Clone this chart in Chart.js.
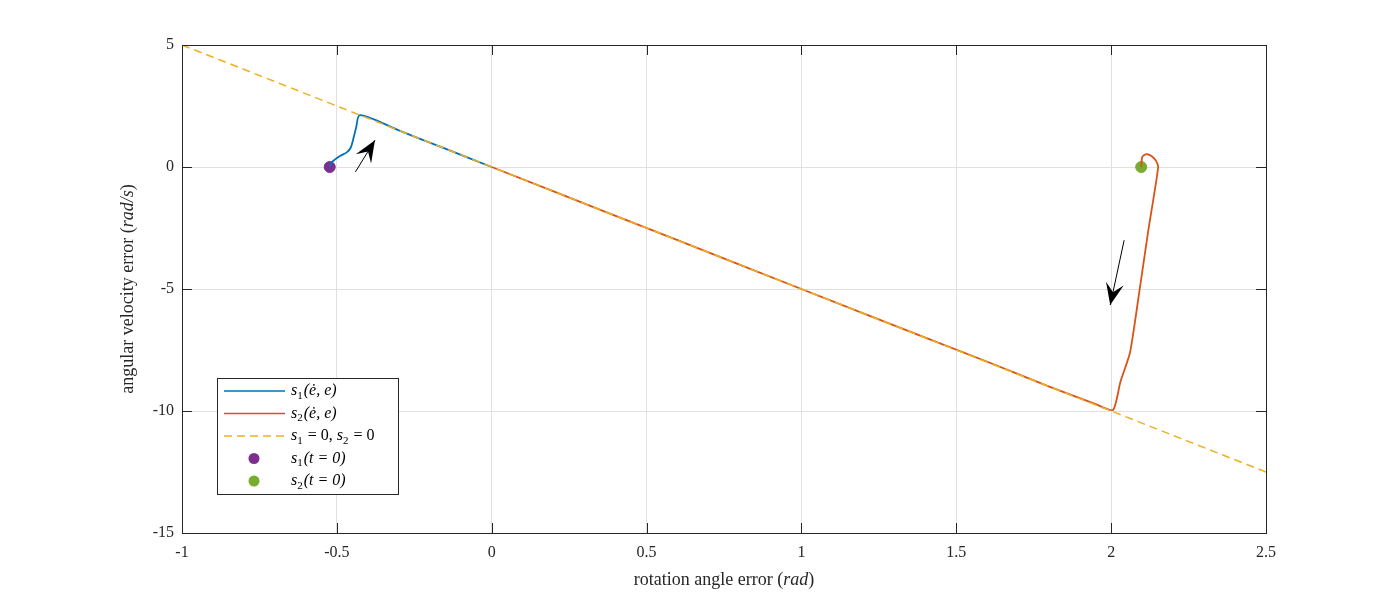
<!DOCTYPE html>
<html>
<head>
<meta charset="utf-8">
<script src="https://cdn.jsdelivr.net/npm/chart.js@4"></script>
<style>
  html, body { margin: 0; padding: 0; background: #fff; }
  #wrap { width: 1400px; height: 600px; }
</style>
</head>
<body>
<div id="wrap"><canvas id="phase"></canvas></div>
<script>
// Sliding surface s = 0 (dashed)
const surfaceX = [-1, 2.5];
const surfaceY = [5, -12.5];

// s1 trajectory
const s1X = [-0.523, -0.516, -0.49, -0.467, -0.455, -0.448, -0.438, -0.425, -0.3, -0.15, 0];
const s1Y = [0, 0.2, 0.45, 0.61, 0.8, 1.1, 1.6, 2.13, 1.5, 0.75, 0];

// s2 trajectory
const s2X = [2.097, 2.1, 2.108, 2.116, 2.13, 2.145, 2.152, 2.12, 2.09, 2.061, 2.03, 2.006, 1.95, 1.8, 1.6, 1.2, 0.8, 0.4, 0];
const s2Y = [0, 0.4, 0.5, 0.53, 0.45, 0.25, 0, -2.6, -5.2, -7.6, -8.8, -9.96, -9.72, -9.0, -7.98, -6.0, -4.0, -2.0, 0];

// initial points
const s1Start = [-0.523, 0];
const s2Start = [2.097, 0];

const xTicks = [-1, -0.5, 0, 0.5, 1, 1.5, 2, 2.5];
const yTicks = [-15, -10, -5, 0, 5];

const COLORS = {
    blue: '#0072BD',
    red: '#D95319',
    yellow: '#EDB120',
    purple: '#7E2F8E',
    green: '#77AC30'
};
const FONT = '"Liberation Serif", "DejaVu Serif", serif';

function pts(xs, ys) {
    return xs.map((x, i) => ({ x: x, y: ys[i] }));
}

// arrows in data coordinates: [tailX, tailY, tipX, tipY]
const arrows = [[-0.44, -0.2, -0.377, 1.1], [2.042, -3.0, 1.997, -5.66]];

const decorPlugin = {
    id: 'decor',
    afterDraw(chart) {
        const { ctx, chartArea: a, scales: { x, y } } = chart;
        ctx.save();
        // box + inner ticks
        ctx.strokeStyle = '#262626';
        ctx.lineWidth = 1;
        ctx.strokeRect(a.left + 0.5, a.top + 0.5, a.right - a.left, a.bottom - a.top);
        ctx.beginPath();
        xTicks.forEach(v => {
            const px = Math.round(x.getPixelForValue(v)) + 0.5;
            ctx.moveTo(px, a.bottom); ctx.lineTo(px, a.bottom - 10);
            ctx.moveTo(px, a.top); ctx.lineTo(px, a.top + 10);
        });
        yTicks.forEach(v => {
            const py = Math.round(y.getPixelForValue(v)) + 0.5;
            ctx.moveTo(a.left, py); ctx.lineTo(a.left + 10, py);
            ctx.moveTo(a.right, py); ctx.lineTo(a.right - 10, py);
        });
        ctx.stroke();

        // arrows
        ctx.fillStyle = '#000';
        ctx.strokeStyle = '#000';
        arrows.forEach(([tx, ty, hx, hy]) => {
            const x0 = x.getPixelForValue(tx), y0 = y.getPixelForValue(ty);
            const x1 = x.getPixelForValue(hx), y1 = y.getPixelForValue(hy);
            const ang = Math.atan2(y1 - y0, x1 - x0);
            ctx.beginPath();
            ctx.moveTo(x0, y0); ctx.lineTo(x1, y1);
            ctx.stroke();
            const L = 22, W = 9;
            const bx = x1 - L * Math.cos(ang), by = y1 - L * Math.sin(ang);
            const mx = x1 - 0.6 * L * Math.cos(ang), my = y1 - 0.6 * L * Math.sin(ang);
            ctx.beginPath();
            ctx.moveTo(x1, y1);
            ctx.lineTo(bx + W * Math.sin(ang), by - W * Math.cos(ang));
            ctx.lineTo(mx, my);
            ctx.lineTo(bx - W * Math.sin(ang), by + W * Math.cos(ang));
            ctx.closePath();
            ctx.fill();
        });

        // axis titles
        ctx.fillStyle = '#262626';
        ctx.textBaseline = 'middle';
        ctx.textAlign = 'left';
        const xt1 = 'rotation angle error (', xt2 = 'rad', xt3 = ')';
        ctx.font = '18px ' + FONT;
        let w1 = ctx.measureText(xt1).width;
        ctx.font = 'italic 18px ' + FONT;
        let w2 = ctx.measureText(xt2).width;
        ctx.font = '18px ' + FONT;
        let w3 = ctx.measureText(xt3).width;
        let sx = 724 - (w1 + w2 + w3) / 2;
        ctx.fillText(xt1, sx, 580);
        ctx.font = 'italic 18px ' + FONT; ctx.fillText(xt2, sx + w1, 580);
        ctx.font = '18px ' + FONT; ctx.fillText(xt3, sx + w1 + w2, 580);

        ctx.translate(128, 289);
        ctx.rotate(-Math.PI / 2);
        const yt1 = 'angular velocity error (', yt2 = 'rad/s', yt3 = ')';
        w1 = ctx.measureText(yt1).width;
        ctx.font = 'italic 18px ' + FONT; w2 = ctx.measureText(yt2).width;
        ctx.font = '18px ' + FONT; w3 = ctx.measureText(yt3).width;
        sx = -(w1 + w2 + w3) / 2;
        ctx.fillText(yt1, sx, 0);
        ctx.font = 'italic 18px ' + FONT; ctx.fillText(yt2, sx + w1, 0);
        ctx.font = '18px ' + FONT; ctx.fillText(yt3, sx + w1 + w2, 0);
        ctx.setTransform(1, 0, 0, 1, 0, 0);
        ctx.scale(chart.currentDevicePixelRatio, chart.currentDevicePixelRatio);

        // legend
        const lx = 217, ly = 378, lw = 181, lh = 116;
        ctx.fillStyle = '#fff';
        ctx.fillRect(lx, ly, lw, lh);
        ctx.strokeStyle = '#262626';
        ctx.strokeRect(lx + 0.5, ly + 0.5, lw, lh);
        const rows = [
            { kind: 'line', color: COLORS.blue, sub: '1', rest: '(ė, e)' },
            { kind: 'line', color: COLORS.red, sub: '2', rest: '(ė, e)' },
            { kind: 'dash', color: COLORS.yellow, sub: null, rest: '' },
            { kind: 'dot', color: COLORS.purple, sub: '1', rest: '(t = 0)' },
            { kind: 'dot', color: COLORS.green, sub: '2', rest: '(t = 0)' }
        ];
        rows.forEach((r, i) => {
            const cy = ly + 13 + i * 22.5;
            ctx.strokeStyle = r.color;
            ctx.lineWidth = 1.5;
            if (r.kind === 'line' || r.kind === 'dash') {
                ctx.setLineDash(r.kind === 'dash' ? [8, 5] : []);
                ctx.beginPath(); ctx.moveTo(lx + 7, cy); ctx.lineTo(lx + 68, cy); ctx.stroke();
                ctx.setLineDash([]);
            } else {
                ctx.fillStyle = r.color;
                ctx.beginPath(); ctx.arc(lx + 37, cy, 5.5, 0, Math.PI * 2); ctx.fill();
            }
            ctx.fillStyle = '#000';
            let px = lx + 74;
            const seg = (t, f) => { ctx.font = f; ctx.fillText(t, px, cy); px += ctx.measureText(t).width; };
            const subSeg = t => { ctx.font = '11px ' + FONT; ctx.fillText(t, px, cy + 5); px += ctx.measureText(t).width + 1; };
            if (r.kind === 'dash') {
                seg('s', 'italic 16px ' + FONT); subSeg('1'); seg(' = 0, ', '16px ' + FONT);
                seg('s', 'italic 16px ' + FONT); subSeg('2'); seg(' = 0', '16px ' + FONT);
            } else {
                seg('s', 'italic 16px ' + FONT); subSeg(r.sub);
                seg(r.rest, 'italic 16px ' + FONT);
            }
        });
        ctx.restore();
    }
};

new Chart(document.getElementById('phase'), {
    type: 'scatter',
    data: {
        datasets: [
            { data: pts(surfaceX, surfaceY), showLine: true, borderColor: COLORS.yellow, borderWidth: 1.5, borderDash: [8, 5], pointRadius: 0 },
            { data: pts(s1X, s1Y), showLine: true, borderColor: COLORS.blue, borderWidth: 1.8, pointRadius: 0, tension: 0.3 },
            { data: pts(s2X, s2Y), showLine: true, borderColor: COLORS.red, borderWidth: 1.8, pointRadius: 0, tension: 0.2 },
            { data: [{ x: s1Start[0], y: s1Start[1] }], backgroundColor: COLORS.purple, borderColor: COLORS.purple, pointRadius: 5.5 },
            { data: [{ x: s2Start[0], y: s2Start[1] }], backgroundColor: COLORS.green, borderColor: COLORS.green, pointRadius: 5.5 }
        ]
    },
    options: {
        responsive: true,
        maintainAspectRatio: false,
        animation: false,
        layout: { padding: { top: 45, right: 134, left: 0, bottom: 0 } },
        plugins: { legend: { display: false }, tooltip: { enabled: false } },
        scales: {
            x: {
                type: 'linear', min: -1, max: 2.5,
                afterBuildTicks: s => { s.ticks = xTicks.map(v => ({ value: v })); },
                afterFit: s => { s.height = 67; },
                grid: { color: '#e0e0e0', drawTicks: false },
                border: { display: false },
                ticks: { color: '#262626', padding: 10, font: { family: FONT, size: 16 }, callback: v => String(v) }
            },
            y: {
                type: 'linear', min: -15, max: 5,
                afterBuildTicks: s => { s.ticks = yTicks.map(v => ({ value: v })); },
                afterFit: s => { s.width = 182; },
                grid: { color: '#e0e0e0', drawTicks: false },
                border: { display: false },
                ticks: { color: '#262626', padding: 8, font: { family: FONT, size: 16 }, callback: v => String(v) }
            }
        }
    },
    plugins: [decorPlugin]
});
</script>
</body>
</html>
